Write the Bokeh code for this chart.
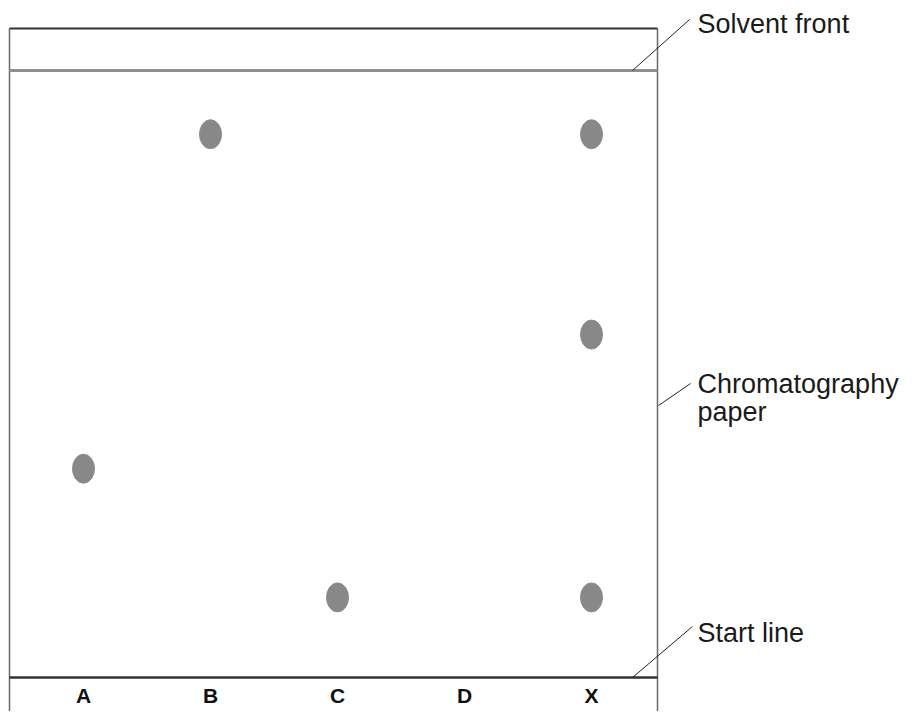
from bokeh.plotting import figure
from bokeh.models import Range1d
from bokeh.core.properties import value
from bokeh.embed import file_html
from bokeh.resources import INLINE

# ---- data ----
lanes = ["A", "B", "C", "D", "X"]
spot_lane = ["A", "B", "C", "X", "X", "X"]
spot_rf = [0.344, 0.895, 0.132, 0.895, 0.565, 0.132]
annot_texts = ["Solvent front", "Chromatography", "paper", "Start line"]

# ---- layout (x in lane units, y in Rf units) ----
# image x = 83 + 127 * lane ; image y = 677 - 607 * Rf
W, H = 904, 711
X0, X1 = (0 - 83) / 127, (W - 83) / 127
Y0, Y1 = (677 - H) / 607, 677 / 607
PAPER_L, PAPER_R, PAPER_T = (9 - 83) / 127, (657 - 83) / 127, (677 - 28) / 607

p = figure(width=W, height=H, output_backend="svg", toolbar_location=None,
           x_range=Range1d(X0, X1), y_range=Range1d(Y0, Y1),
           min_border=0, outline_line_color=None)
p.axis.visible = False
p.grid.visible = False
p.background_fill_color = "white"
p.border_fill_color = "white"

# paper edges
p.segment(x0=[PAPER_L, PAPER_R], y0=[Y0 - 0.1, Y0 - 0.1], x1=[PAPER_L, PAPER_R], y1=[PAPER_T, PAPER_T],
          line_color="#6a6a6a", line_width=1.5)
p.segment(x0=[PAPER_L], y0=[PAPER_T], x1=[PAPER_R], y1=[PAPER_T], line_color="#333333", line_width=2.2)
# solvent front
p.segment(x0=[PAPER_L], y0=[1.0], x1=[PAPER_R], y1=[1.0], line_color="#8f8f8f", line_width=3)
# start line
p.segment(x0=[PAPER_L], y0=[0.0], x1=[PAPER_R], y1=[0.0], line_color="#333333", line_width=2.5)

# spots
xs = [lanes.index(l) for l in spot_lane]
p.ellipse(x=xs, y=spot_rf, width=22, height=29, width_units="screen", height_units="screen",
          fill_color="#888888", line_color="#8c8c8c", line_width=1)

# lane labels
p.text(x=list(range(len(lanes))), y=[(677 - 695) / 607] * len(lanes), text=lanes,
       text_font=value("Liberation Sans"), text_font_style="bold", text_font_size="21px",
       text_align="center", text_baseline="middle", text_color="#111111")

# leader lines
p.segment(x0=[4.323, 4.528, 4.323], y0=[1.0, 0.4481, 0.0],
          x1=[4.772, 4.780, 4.795], y1=[1.084, 0.4843, 0.0840],
          line_color="#222222", line_width=1)

# annotations
p.text(x=[4.835] * 4, y=[1.0774, 0.4843, 0.4366, 0.0741], text=annot_texts,
       text_font=value("Liberation Sans"), text_font_size="27px",
       text_align="left", text_baseline="middle", text_color="#1a1a1a")

open("out.html", "w").write(file_html(p, INLINE))
